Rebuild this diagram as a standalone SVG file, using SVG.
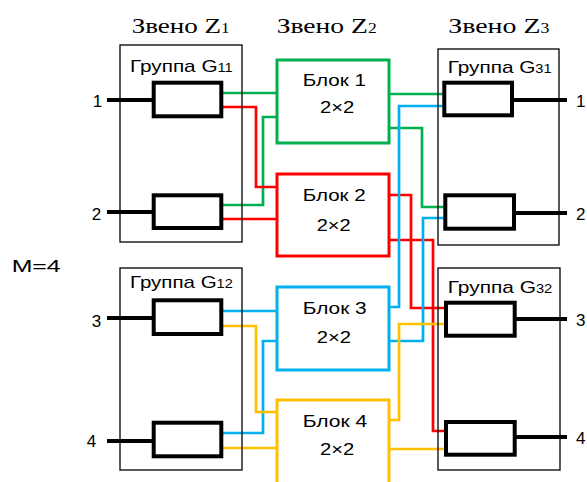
<svg xmlns="http://www.w3.org/2000/svg" width="587" height="482" viewBox="0 0 587 482">
<style>
.grp{fill:none;stroke:#000;stroke-width:1.3}
.el{fill:#fff;stroke:#000;stroke-width:4}
.io{fill:none;stroke:#000;stroke-width:4}
.blk{fill:#fff;stroke-width:3}
.c{fill:none;stroke-width:2.7}
.g{stroke:#00B050}.r{stroke:#FF0000}.b{stroke:#00B0F0}.y{stroke:#FFC000}
.hd{font-family:"Liberation Serif","Times New Roman",serif;font-size:22px;fill:#000}
.t{font-family:"Liberation Sans",Arial,sans-serif;font-size:17px;fill:#000}
.n{font-family:"Liberation Sans",Arial,sans-serif;font-size:17px;fill:#000}
</style>
<rect width="587" height="482" fill="#fff"/>
<g id="headers">
<text class="hd" x="131.7" y="33" textLength="98" lengthAdjust="spacingAndGlyphs">Звено Z<tspan font-size="14">1</tspan></text>
<text class="hd" x="276.7" y="33" textLength="100" lengthAdjust="spacingAndGlyphs">Звено Z<tspan font-size="14">2</tspan></text>
<text class="hd" x="448.3" y="33" textLength="101" lengthAdjust="spacingAndGlyphs">Звено Z<tspan font-size="14">3</tspan></text>
</g>
<text class="t" x="11.7" y="271.7" font-size="23" textLength="49" lengthAdjust="spacingAndGlyphs">M=4</text>
<g id="connectors">
<path class="c g" d="M222,93 H277"/>
<path class="c g" d="M222,205 H263 V117 H277"/>
<path class="c g" d="M389,94 H444"/>
<path class="c g" d="M389,128 H422 V207 H445"/>
<path class="c r" d="M222,107 H256 V187 H277"/>
<path class="c r" d="M222,219 H277"/>
<path class="c r" d="M389,195 H411 V308 H446"/>
<path class="c r" d="M389,240 H433 V431 H446"/>
<path class="c b" d="M222,311 H277"/>
<path class="c b" d="M222,433 H263 V341 H277"/>
<path class="c b" d="M389,307 H399 V106 H444"/>
<path class="c b" d="M389,341 H423 V218 H445"/>
<path class="c y" d="M222,326 H256 V412 H277"/>
<path class="c y" d="M222,448 H277"/>
<path class="c y" d="M389,420 H399 V324 H446"/>
<path class="c y" d="M389,449 H446"/>
<path class="io" d="M107,100 H154 M107,212 H154 M107,318 H154 M107,441 H154"/>
<path class="io" d="M513,100 H567 M515,213 H567 M515,319 H567 M515,437 H567"/>
</g>
<g id="G11">
<rect class="grp" x="120" y="45" width="122" height="197"/>
<text class="t" x="130" y="71.7" textLength="102.7" lengthAdjust="spacingAndGlyphs">Группа G<tspan font-size="12">11</tspan></text>
<rect class="el" x="153.7" y="82.7" width="67.6" height="33.6"/>
<rect class="el" x="153.7" y="195.3" width="67.6" height="32.7"/>
<text class="n" x="92.7" y="107.3">1</text>
<text class="n" x="91.7" y="220">2</text>
</g>
<g id="G12">
<rect class="grp" x="120" y="268" width="122" height="202"/>
<text class="t" x="130" y="287.7" textLength="102.7" lengthAdjust="spacingAndGlyphs">Группа G<tspan font-size="12">12</tspan></text>
<rect class="el" x="153.7" y="300.3" width="67.6" height="33.7"/>
<rect class="el" x="153.7" y="422.7" width="67.6" height="33.6"/>
<text class="n" x="91.7" y="326.7">3</text>
<text class="n" x="86.7" y="446.7">4</text>
</g>
<g id="B1">
<rect class="blk g" x="277" y="60" width="112" height="83"/>
<text class="t" x="302.7" y="86" textLength="63.3" lengthAdjust="spacingAndGlyphs">Блок 1</text>
<text class="t" x="320" y="112.7" textLength="34.3" lengthAdjust="spacingAndGlyphs">2×2</text>
</g>
<g id="B2">
<rect class="blk r" x="277" y="174" width="112" height="82"/>
<text class="t" x="302.7" y="201" textLength="63" lengthAdjust="spacingAndGlyphs">Блок 2</text>
<text class="t" x="316.7" y="231" textLength="34" lengthAdjust="spacingAndGlyphs">2×2</text>
</g>
<g id="B3">
<rect class="blk b" x="277" y="287" width="112" height="83"/>
<text class="t" x="302.7" y="314" textLength="64" lengthAdjust="spacingAndGlyphs">Блок 3</text>
<text class="t" x="316.7" y="343.3" textLength="34.3" lengthAdjust="spacingAndGlyphs">2×2</text>
</g>
<g id="B4">
<path class="blk y" d="M277,486 V400 H389 V486"/>
<text class="t" x="302.7" y="426.7" textLength="64.6" lengthAdjust="spacingAndGlyphs">Блок 4</text>
<text class="t" x="320" y="455" textLength="34.3" lengthAdjust="spacingAndGlyphs">2×2</text>
</g>
<g id="G31">
<rect class="grp" x="438" y="49" width="121" height="196"/>
<text class="t" x="447.7" y="73.3" textLength="104" lengthAdjust="spacingAndGlyphs">Группа G<tspan font-size="12">31</tspan></text>
<rect class="el" x="444.3" y="82.7" width="67.7" height="32.6"/>
<rect class="el" x="445.3" y="195.3" width="68.7" height="33.4"/>
<text class="n" x="576" y="107.3">1</text>
<text class="n" x="576" y="220">2</text>
</g>
<g id="G32">
<rect class="grp" x="438" y="268" width="122" height="202"/>
<text class="t" x="447.7" y="292.7" textLength="104.6" lengthAdjust="spacingAndGlyphs">Группа G<tspan font-size="12">32</tspan></text>
<rect class="el" x="446" y="302.7" width="68.7" height="33"/>
<rect class="el" x="446" y="422" width="68.7" height="32.7"/>
<text class="n" x="576" y="326">3</text>
<text class="n" x="576" y="444">4</text>
</g>
</svg>
